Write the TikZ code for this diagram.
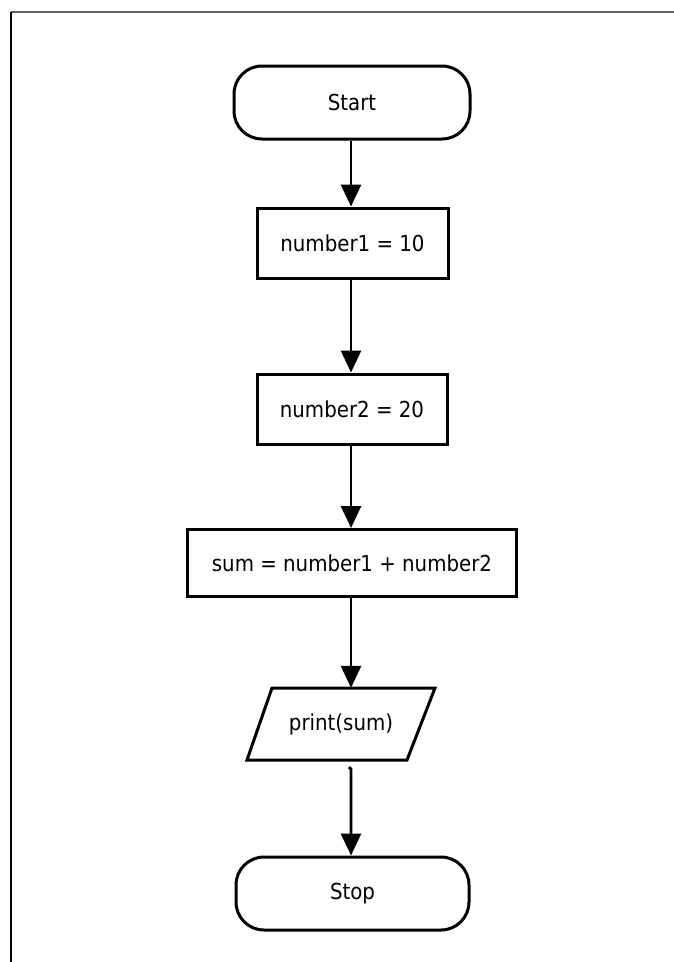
\documentclass[tikz,border=0pt]{standalone}
\usepackage{fontspec}
\setmainfont{DejaVu Sans Condensed}
\usetikzlibrary{arrows.meta,shapes.geometric,calc}
\begin{document}
\begin{tikzpicture}[x=1pt,y=-1pt,
  font=\fontsize{22pt}{26pt}\selectfont,
  shape line/.style={draw=black,line width=3pt,fill=white,inner sep=0pt},
  term/.style={shape line,rectangle,rounded corners=28pt,minimum width=236pt,minimum height=73pt},
  proc/.style={shape line,rectangle,minimum height=70pt},
  outline/.style={draw=black,line width=3pt,fill=white,line join=miter},
  flow/.style={line width=2.8pt,-{Triangle[width=20pt,length=22pt]}}]
\useasboundingbox (0,0) rectangle (674,962);
\draw[gray!75!black,line width=2pt] (11,12) -- (674,12);
\draw[black,line width=1.6pt] (11,12) -- (11,962);
\node[term] (start) at (352,102.5) {Start};
\node[proc,minimum width=191pt] (n1) at (352.5,243) {number1 = 10};
\node[proc,minimum width=190pt] (n2) at (352,409) {number2 = 20};
\node[proc,minimum width=329pt,minimum height=67pt] (sum) at (352,563) {sum = number1 + number2};
\coordinate (oc) at (341,724);
\draw[outline] ($(oc)+(-69,-36)$) -- ($(oc)+(94,-36)$) -- ($(oc)+(66,36)$) -- ($(oc)+(-94,36)$) -- cycle;
\node[inner sep=0pt,minimum width=188pt,minimum height=72pt] (out) at (oc) {print(sum)};
\node[term,minimum width=233pt] (stop) at (352.5,893.5) {Stop};
\coordinate (a0) at (351,0);
\draw[flow] (start.south -| a0) -- (n1.north -| a0);
\draw[flow] (n1.south -| a0) -- (n2.north -| a0);
\draw[flow] (n2.south -| a0) -- (sum.north -| a0);
\draw[flow] (sum.south -| a0) -- (out.north -| a0);
\coordinate (hook) at ($(out.south -| a0)+(-2,7)$);
\draw[flow] (hook) -- ++(2,2) -- (stop.north -| a0);
\end{tikzpicture}
\end{document}
